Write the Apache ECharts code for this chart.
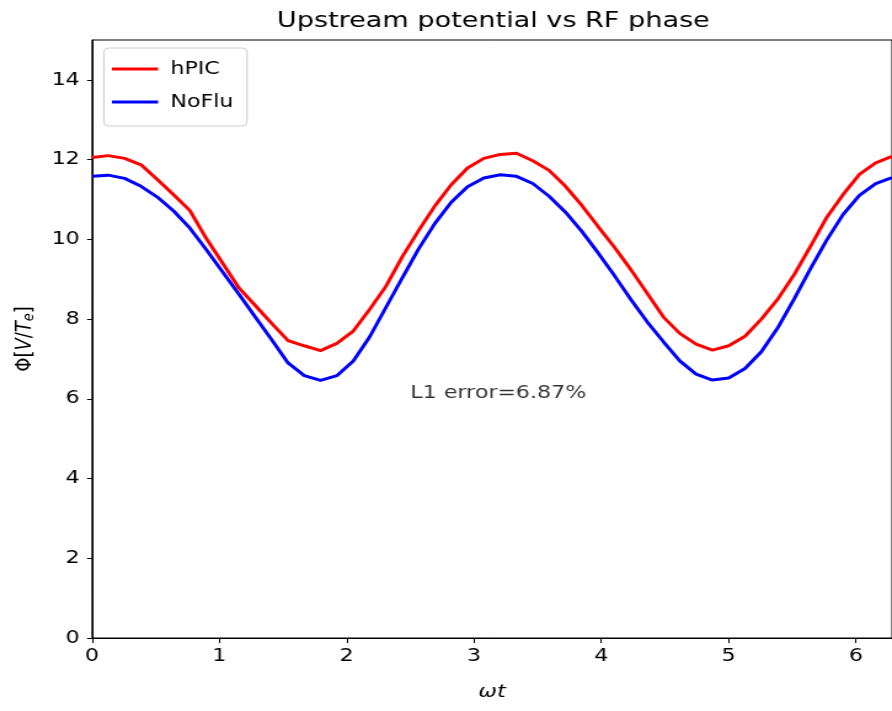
<!DOCTYPE html>
<html>
<head>
<meta charset="utf-8">
<title>Upstream potential vs RF phase</title>
<script src="https://cdn.jsdelivr.net/npm/echarts@6/dist/echarts.min.js"></script>
<style>
  html, body { margin: 0; padding: 0; background: #fff; overflow: hidden; }
  /* the reference figure is stretched sideways, so draw narrower and widen it */
  #chart { width: 725px; height: 711px; transform: scaleX(1.2303); transform-origin: 0 0; }
</style>
</head>
<body>
<div id="chart"></div>
<script>
// RF phase samples (omega t)
const phase = [
  0, 0.128, 0.256, 0.385, 0.513, 0.641, 0.769, 0.898, 1.026, 1.154,
  1.282, 1.411, 1.539, 1.667, 1.795, 1.923, 2.052, 2.180, 2.308, 2.436,
  2.565, 2.693, 2.821, 2.949, 3.077, 3.206, 3.334, 3.462, 3.590, 3.719,
  3.847, 3.975, 4.103, 4.232, 4.360, 4.488, 4.616, 4.744, 4.873, 5.001,
  5.129, 5.257, 5.386, 5.514, 5.642, 5.770, 5.898, 6.027, 6.155, 6.283
];

// upstream potential, hPIC
const hpic = [
  12.05, 12.10, 12.03, 11.87, 11.50, 11.12, 10.72, 10.02, 9.40, 8.78,
  8.34, 7.89, 7.46, 7.33, 7.21, 7.39, 7.70, 8.24, 8.82, 9.56,
  10.22, 10.84, 11.37, 11.79, 12.03, 12.13, 12.16, 11.97, 11.73, 11.33,
  10.85, 10.32, 9.80, 9.24, 8.65, 8.05, 7.64, 7.37, 7.22, 7.33,
  7.57, 8.00, 8.50, 9.11, 9.82, 10.55, 11.12, 11.63, 11.92, 12.08
];

// upstream potential, NoFlu
const noflu = [
  11.58, 11.61, 11.53, 11.33, 11.06, 10.71, 10.28, 9.74, 9.18, 8.62,
  8.05, 7.48, 6.90, 6.58, 6.46, 6.58, 6.95, 7.55, 8.29, 9.03,
  9.76, 10.40, 10.93, 11.32, 11.54, 11.62, 11.58, 11.40, 11.08, 10.68,
  10.20, 9.66, 9.09, 8.49, 7.93, 7.43, 6.95, 6.62, 6.47, 6.52,
  6.76, 7.18, 7.78, 8.50, 9.26, 9.98, 10.62, 11.10, 11.40, 11.55
];

const xTicks = [0, 1, 2, 3, 4, 5, 6];
const yTicks = [0, 2, 4, 6, 8, 10, 12, 14];
const note = { x: 2.5, y: 6, text: "L1 error=6.87%" };

const font = "DejaVu Sans";
const fs = 18;
const chart = echarts.init(document.getElementById("chart"));

const option = {
  animation: false,
  backgroundColor: "#fff",
  textStyle: { fontFamily: font, color: "#000" },
  title: {
    text: "Upstream potential vs RF phase",
    left: 396,
    top: 5,
    textAlign: "center",
    textStyle: { fontFamily: font, fontSize: 22, fontWeight: "normal", color: "#000" },
  },
  legend: {
    data: ["hPIC", "NoFlu"],
    orient: "vertical",
    left: 84.5,
    top: 48,
    padding: [12, 11, 15, 6.5],
    itemGap: 15,
    itemWidth: 37.5,
    itemHeight: 3,
    icon: "rect",
    backgroundColor: "rgba(255,255,255,0.8)",
    borderColor: "#cccccc",
    borderWidth: 1,
    borderRadius: 4,
    textStyle: { fontFamily: font, fontSize: fs, color: "#000", padding: [0, 0, 0, 5] },
  },
  grid: {
    left: 74.8,
    top: 40,
    right: -3.5,
    bottom: 73,
    show: true,
    borderColor: "#000",
    borderWidth: 1,
  },
  xAxis: {
    type: "value",
    min: 0,
    max: 6.283,
    name: "ωt",
    nameLocation: "middle",
    nameGap: 45,
    nameTextStyle: { fontFamily: font, fontSize: fs, fontStyle: "italic", color: "#000" },
    axisLine: { show: true, lineStyle: { color: "#000", width: 1 } },
    axisTick: { show: true, length: 5, lineStyle: { color: "#000" }, customValues: xTicks },
    axisLabel: { fontSize: fs, color: "#000", margin: 9, customValues: xTicks },
    splitLine: { show: false },
  },
  yAxis: {
    type: "value",
    min: 0,
    max: 15,
    name: "{n|Φ[}{i|V}{n|/}{i|T}{s|e}{n|]}",
    nameLocation: "middle",
    nameRotate: 90,
    nameGap: 45,
    nameTextStyle: {
      fontFamily: font,
      fontSize: fs,
      color: "#000",
      rich: {
        n: { fontFamily: font, fontSize: fs, color: "#000" },
        i: { fontFamily: font, fontSize: fs, fontStyle: "italic", color: "#000" },
        s: { fontFamily: font, fontSize: 13, fontStyle: "italic", color: "#000", padding: [6, 0, 0, 0] },
      },
    },
    axisLine: { show: true, lineStyle: { color: "#000", width: 1 } },
    axisTick: { show: true, length: 4, lineStyle: { color: "#000" }, customValues: yTicks },
    axisLabel: { fontSize: fs, color: "#000", margin: 10, customValues: yTicks },
    splitLine: { show: false },
  },
  series: [
    {
      name: "hPIC",
      type: "line",
      data: phase.map((x, i) => [x, hpic[i]]),
      showSymbol: false,
      symbol: "none",
      lineStyle: { color: "#ff0000", width: 3 },
      itemStyle: { color: "#ff0000" },
    },
    {
      name: "NoFlu",
      type: "line",
      data: phase.map((x, i) => [x, noflu[i]]),
      showSymbol: false,
      symbol: "none",
      lineStyle: { color: "#0000ff", width: 3 },
      itemStyle: { color: "#0000ff" },
    },
    {
      name: "note",
      type: "scatter",
      data: [[note.x, note.y]],
      symbolSize: 0,
      silent: true,
      label: {
        show: true,
        formatter: note.text,
        position: [0, 0],
        offset: [0, 4],
        align: "left",
        verticalAlign: "bottom",
        fontFamily: font,
        fontSize: fs,
        color: "#000",
      },
    },
  ],
};

chart.setOption(option);
</script>
</body>
</html>
